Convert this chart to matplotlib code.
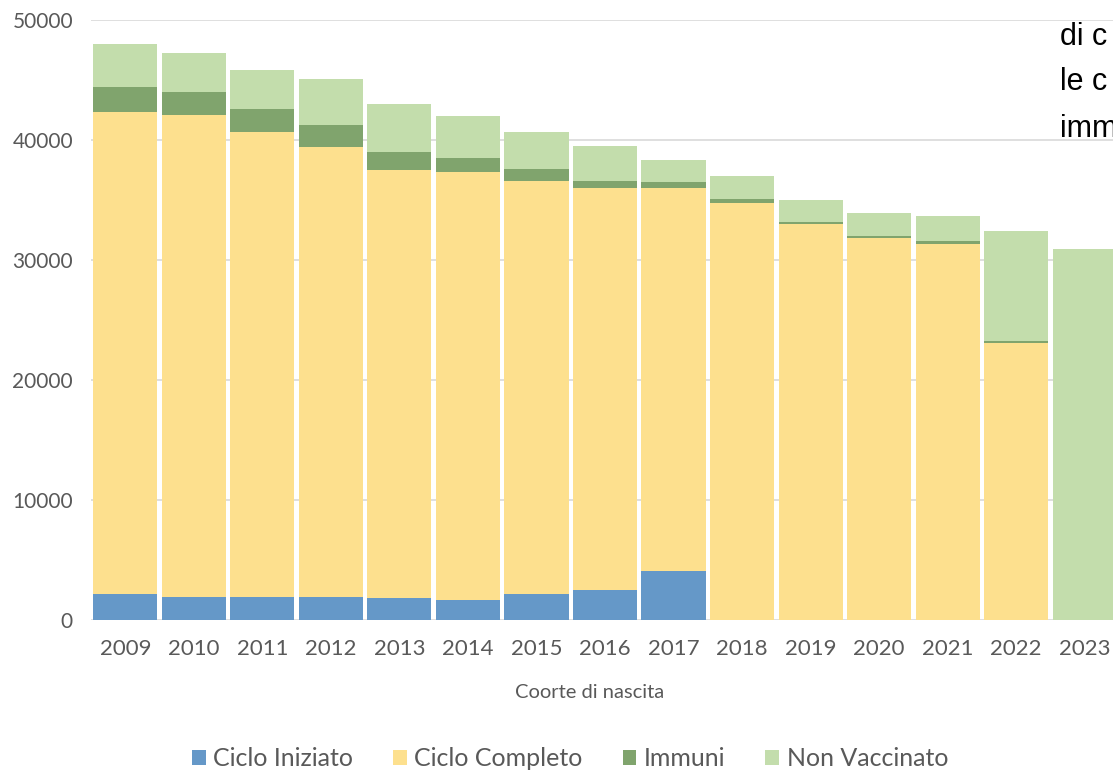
import matplotlib
matplotlib.use("Agg")
import matplotlib.pyplot as plt
from matplotlib.patches import Patch
import numpy as np

years = ["2009", "2010", "2011", "2012", "2013", "2014", "2015", "2016",
         "2017", "2018", "2019", "2020", "2021", "2022", "2023"]
ciclo_iniziato = [2170, 1950, 1950, 1950, 1860, 1670, 2140, 2500, 4080, 0, 0, 0, 0, 0, 0]
ciclo_completo = [40190, 40130, 38690, 37490, 35640, 35690, 34470, 33470, 31950,
                  34720, 33000, 31830, 31330, 23110, 0]
immuni = [2080, 1890, 1940, 1810, 1530, 1110, 970, 640, 500, 340, 150, 150, 250, 120, 0]
non_vaccinato = [3560, 3250, 3250, 3810, 3940, 3560, 3060, 2890, 1800, 1940, 1850,
                 1910, 2110, 9210, 30890]
series_names = ["Ciclo Iniziato", "Ciclo Completo", "Immuni", "Non Vaccinato"]
colors = ["#6598C8", "#FDE08E", "#80A46D", "#C3DDAC"]
yticks = [0, 10000, 20000, 30000, 40000, 50000]

W, H = 1113, 772
fig = plt.figure(figsize=(W / 100, H / 100), dpi=100)
ax = fig.add_axes([91 / W, 1 - 620 / H, 1028 / W, 600 / H])

x = np.arange(len(years))
bottom = np.zeros(len(years))
for vals, c in zip([ciclo_iniziato, ciclo_completo, immuni, non_vaccinato], colors):
    ax.bar(x, vals, bottom=bottom, width=0.935, color=c, zorder=2, linewidth=0)
    bottom += np.array(vals)

ax.set_xlim(-0.5, len(years) - 0.5)
ax.set_ylim(0, 50000)
ax.set_yticks(yticks)
ax.set_yticklabels([str(v) for v in yticks])
ax.set_xticks(x)
ax.set_xticklabels(years)
ax.yaxis.grid(True, color="#D9D9D9", linewidth=1.2, zorder=0)
ax.set_axisbelow(True)
for s in ax.spines.values():
    s.set_visible(False)
ax.tick_params(axis="both", length=0, colors="#595959", labelfontfamily="Lato")
ax.tick_params(axis="y", pad=13, labelsize=15)
ax.tick_params(axis="x", pad=14, labelsize=16)

fig.text(590 / W, 1 - 693 / H, "Coorte di nascita", ha="center", va="center",
         fontsize=14.5, color="#595959", family="Lato")

handles = [Patch(facecolor=c, edgecolor="none") for c in colors]
fig.legend(handles, series_names, loc="center", bbox_to_anchor=(570 / W, 1 - 759 / H),
           ncol=4, frameon=False, handlelength=0.55, handleheight=0.55,
           handletextpad=0.3, columnspacing=1.6, borderpad=0,
           prop={"family": "Lato", "size": 18}, labelcolor="#595959")

for txt, yb in [("di c", 45), ("le c", 90), ("imm", 137)]:
    fig.text(1060 / W, 1 - yb / H, txt, ha="left", va="baseline", fontsize=22,
             color="black", family="Liberation Sans")

fig.savefig("out.png", dpi=100, facecolor="white")
